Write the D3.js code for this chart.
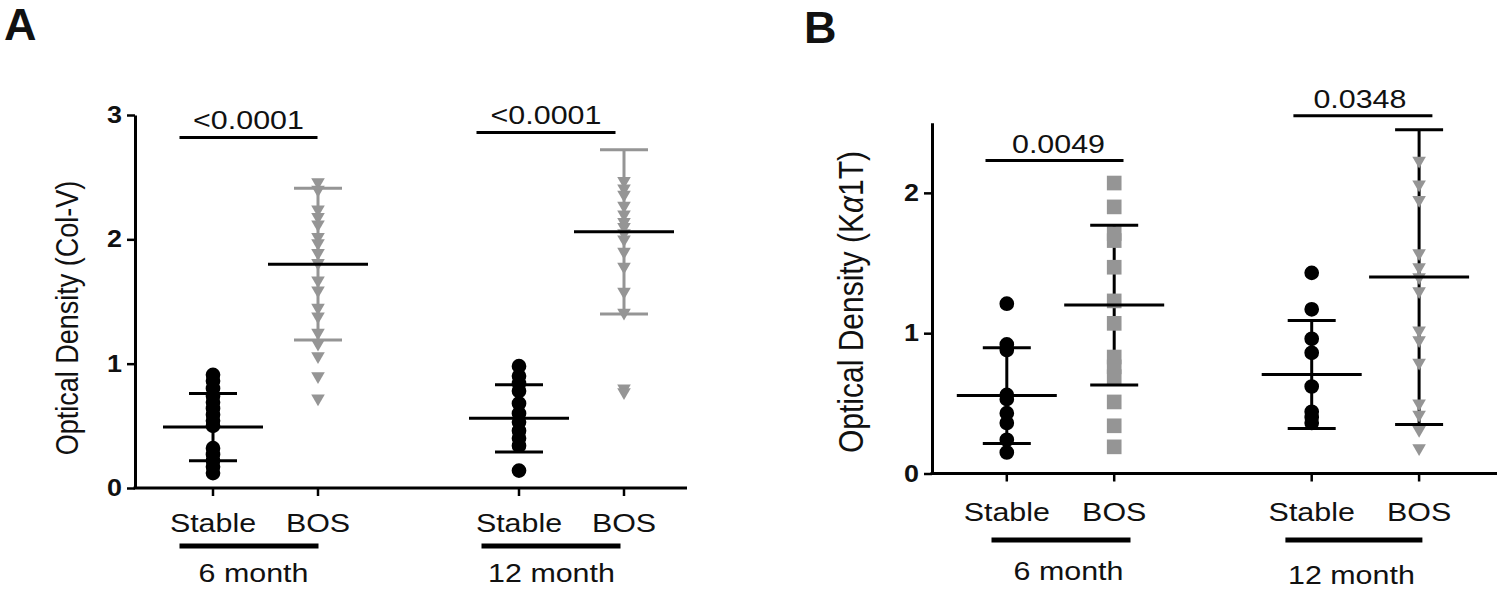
<!DOCTYPE html>
<html><head><meta charset="utf-8">
<script src="https://cdn.jsdelivr.net/npm/d3@7"></script>
<style>body{margin:0;background:#fff}svg{display:block}</style>
</head><body><svg id="c" width="1500" height="595"></svg>
<script>
// ---------- DATA ----------
const groups = ["6 month", "12 month"];
const conditions = ["Stable", "BOS"];

// Panel A: Optical Density (Col-V)
const colV_6m_stable  = [0.91, 0.86, 0.80, 0.74, 0.69, 0.64, 0.59, 0.54, 0.50, 0.32, 0.27, 0.22, 0.17, 0.12];
const colV_6m_bos     = [2.46, 2.40, 2.24, 2.18, 2.12, 2.02, 1.97, 1.89, 1.81, 1.67, 1.59, 1.45, 1.38, 1.25, 1.16, 1.06, 0.90, 0.72];
const colV_12m_stable = [0.98, 0.90, 0.84, 0.78, 0.68, 0.60, 0.53, 0.46, 0.40, 0.34, 0.14];
const colV_12m_bos    = [2.47, 2.41, 2.36, 2.27, 2.20, 2.14, 2.10, 2.05, 2.00, 1.90, 1.78, 1.58, 1.41, 0.80, 0.77];
const colV_mean = [0.49, 1.80, 0.56, 2.06];   // 6m Stable, 6m BOS, 12m Stable, 12m BOS
const colV_sd   = [0.27, 0.61, 0.27, 0.66];
const colV_pValues  = ["<0.0001", "<0.0001"];
const colV_bracketY = [2.82, 2.86];
const colV_yTicks = [0, 1, 2, 3];

// Panel B: Optical Density (Kα1T)
const ka1t_6m_stable  = [1.21, 0.92, 0.88, 0.56, 0.53, 0.43, 0.36, 0.24, 0.15];
const ka1t_6m_bos     = [2.07, 1.90, 1.71, 1.66, 1.47, 1.23, 1.07, 0.83, 0.76, 0.69, 0.51, 0.34, 0.19];
const ka1t_12m_stable = [1.43, 1.17, 0.96, 0.86, 0.62, 0.44, 0.40, 0.36];
const ka1t_12m_bos    = [2.23, 2.06, 1.95, 1.57, 1.47, 1.40, 1.30, 1.02, 0.95, 0.79, 0.50, 0.42, 0.31, 0.18];
const ka1t_mean = [0.555, 1.20, 0.705, 1.40];
const ka1t_sd   = [0.342, 0.57, 0.385, 1.05];
const ka1t_pValues  = ["0.0049", "0.0348"];
const ka1t_bracketY = [2.23, 2.55];
const ka1t_yTicks = [0, 1, 2];

// ---------- STYLE / LAYOUT ----------
const FONT = "'Liberation Sans', Arial, Helvetica, sans-serif";
const SX = 1.17;            // horizontal stretch of the original figure's text
const GRAY = "#959595";
const BLACK = "#000";

const svg = d3.select("#c");

function stretchedText(g, x, y, str, opts = {}) {
  return g.append("text")
    .attr("transform", `translate(${x},${y}) scale(${SX},1)` + (opts.rotate ? ` rotate(${opts.rotate})` : ""))
    .attr("text-anchor", opts.anchor || "middle")
    .style("font-family", FONT)
    .style("font-size", (opts.size || 26) + "px")
    .style("font-weight", opts.weight || "normal")
    .attr("fill", "#111")
    .text(str);
}

function drawPanel(cfg) {
  const g = svg.append("g");
  const y = d3.scaleLinear().domain(cfg.yDomain).range([cfg.y0, cfg.yTop]);
  const gx = d3.scalePoint().domain(groups).range(cfg.groupRange);
  const cx = d3.scalePoint().domain(conditions).range([-cfg.inner, cfg.inner]);
  const xPos = (grp, cond) => gx(grp) + cx(cond);

  // y axis (ticks via d3 axis, labels drawn as stretched bold text)
  const yAxis = d3.axisLeft(y).tickValues(cfg.yTicks).tickFormat("")
    .tickSize(8).tickSizeOuter(0);
  const ya = g.append("g").attr("transform", `translate(${cfg.axisX},0)`).call(yAxis);
  ya.select(".domain").attr("stroke", BLACK).attr("stroke-width", 3);
  ya.selectAll(".tick line").attr("stroke", BLACK).attr("stroke-width", 2.5);
  cfg.yTicks.forEach(t => stretchedText(g, cfg.axisX - 13, y(t) + 8, d3.format("d")(t),
    {anchor: "end", size: 23, weight: "bold"}));

  // x axis line
  g.append("line").attr("x1", cfg.axisX - 1.5).attr("x2", cfg.xEnd)
    .attr("y1", y(0)).attr("y2", y(0)).attr("stroke", BLACK).attr("stroke-width", 3);

  const cats = [];
  groups.forEach((grp, gi) => conditions.forEach((cond, ci) => cats.push({grp, cond, gi, ci, idx: gi * 2 + ci})));

  // x ticks and labels
  g.selectAll(".xt").data(cats).join("line")
    .attr("x1", d => xPos(d.grp, d.cond)).attr("x2", d => xPos(d.grp, d.cond))
    .attr("y1", y(0)).attr("y2", y(0) + 8).attr("stroke", BLACK).attr("stroke-width", 2.5);
  cats.forEach(d => stretchedText(g, xPos(d.grp, d.cond), cfg.catBaseline, d.cond));

  // group underlines + labels
  groups.forEach((grp, gi) => {
    const c = gx(grp), u = cfg.underline[gi];
    g.append("line").attr("x1", c + u[0]).attr("x2", c + u[1])
      .attr("y1", cfg.underlineY).attr("y2", cfg.underlineY)
      .attr("stroke", BLACK).attr("stroke-width", 5);
    stretchedText(g, c + cfg.groupLabelDx[gi], cfg.groupBaseline[gi], grp);
  });

  // error bars: vertical line first
  cats.forEach(d => {
    const x = xPos(d.grp, d.cond), m = cfg.mean[d.idx], s = cfg.sd[d.idx];
    const col = (cfg.grayBars && d.cond === "BOS") ? GRAY : BLACK;
    g.append("line").attr("x1", x).attr("x2", x).attr("y1", y(m - s)).attr("y2", y(m + s))
      .attr("stroke", col).attr("stroke-width", 3);
  });

  // points
  cats.forEach(d => {
    const vals = cfg.values[d.idx];
    const x = xPos(d.grp, d.cond);
    const shape = cfg.shapes[d.idx];
    let sym, rot = 0, size, fill;
    if (shape === "circle") { sym = d3.symbolCircle; size = 170; fill = BLACK; }
    else if (shape === "square") { sym = d3.symbolSquare; size = 215; fill = GRAY; }
    else { sym = d3.symbolTriangle; size = 80; rot = 180; fill = GRAY; }
    g.selectAll(null).data(vals).join("path")
      .attr("d", d3.symbol().type(sym).size(size))
      .attr("transform", v => `translate(${x},${y(v)}) rotate(${rot})`)
      .attr("fill", fill);
  });

  // mean + SD caps
  cats.forEach(d => {
    const x = xPos(d.grp, d.cond), m = cfg.mean[d.idx], s = cfg.sd[d.idx];
    const col = (cfg.grayBars && d.cond === "BOS") ? GRAY : BLACK;
    [m - s, m + s].forEach(v => g.append("line").attr("x1", x - 24).attr("x2", x + 24)
      .attr("y1", y(v)).attr("y2", y(v)).attr("stroke", col).attr("stroke-width", 3));
    g.append("line").attr("x1", x - 50).attr("x2", x + 50)
      .attr("y1", y(m)).attr("y2", y(m)).attr("stroke", BLACK).attr("stroke-width", 3);
  });

  // significance brackets
  groups.forEach((grp, gi) => {
    const c = gx(grp), b = cfg.bracket[gi], yy = y(cfg.bracketY[gi]);
    g.append("line").attr("x1", c + b[0]).attr("x2", c + b[1]).attr("y1", yy).attr("y2", yy)
      .attr("stroke", BLACK).attr("stroke-width", 3);
    stretchedText(g, c + (b[0] + b[1]) / 2 + cfg.pDx[gi], yy - 8, cfg.pValues[gi]);
  });

  // y label
  const yl = stretchedText(g, cfg.yLabelX, cfg.yLabelY, "", {rotate: -90, size: cfg.yLabelSize});
  cfg.yLabel.forEach(part => {
    const t = yl.append("tspan").text(part.t);
    if (part.italic) t.attr("font-style", "italic");
  });

  // panel letter
  g.append("text").attr("x", cfg.letterX).attr("y", cfg.letterY)
    .style("font-family", FONT).style("font-size", "45px").style("font-weight", "bold").attr("fill", "#111")
    .text(cfg.letter);
}

drawPanel({
  letter: "A", letterX: 4, letterY: 40,
  yDomain: [0, 3], y0: 488, yTop: 115, yTicks: colV_yTicks,
  axisX: 135, xEnd: 687,
  groupRange: [265.5, 571.5], inner: 52.5,
  values: [colV_6m_stable, colV_6m_bos, colV_12m_stable, colV_12m_bos],
  shapes: ["circle", "triangle", "circle", "triangle"],
  mean: colV_mean, sd: colV_sd, grayBars: true,
  catBaseline: 532, underlineY: 546, underline: [[-86, 53], [-90, 49]],
  groupBaseline: [582, 582], groupLabelDx: [-12, -20],
  bracket: [[-86, 52], [-95, 44]], bracketY: colV_bracketY, pValues: colV_pValues, pDx: [0, 0],
  yLabel: [{t: "Optical Density (Col-V)"}], yLabelX: 78, yLabelY: 318, yLabelSize: 27
});

drawPanel({
  letter: "B", letterX: 804, letterY: 43,
  yDomain: [0, 2.5], y0: 473.5, yTop: 122.7, yTicks: ka1t_yTicks,
  axisX: 932, xEnd: 1497,
  groupRange: [1060.5, 1365.4], inner: 53.7,
  values: [ka1t_6m_stable, ka1t_6m_bos, ka1t_12m_stable, ka1t_12m_bos],
  shapes: ["circle", "square", "circle", "triangle"],
  mean: ka1t_mean, sd: ka1t_sd, grayBars: false,
  catBaseline: 521, underlineY: 540, underline: [[-69, 70], [-80, 57]],
  groupBaseline: [580, 584], groupLabelDx: [8, -14],
  bracket: [[-75, 63], [-72, 67]], bracketY: ka1t_bracketY, pValues: ka1t_pValues, pDx: [4, -3],
  yLabel: [{t: "Optical Density (K"}, {t: "α", italic: true}, {t: "1T)"}], yLabelX: 863, yLabelY: 302, yLabelSize: 30
});
</script>
</body></html>
